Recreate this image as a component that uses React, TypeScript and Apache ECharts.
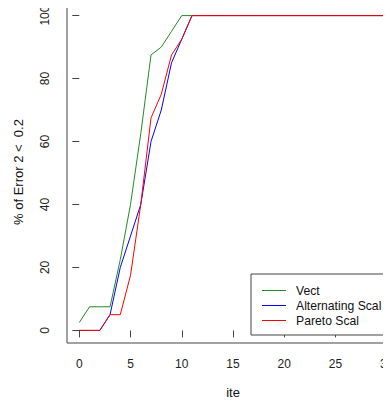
import React, { useEffect, useRef } from "react";
import * as echarts from "echarts";

const iterations = Array.from({ length: 31 }, (_, i) => i);
const vect = [2.5, 7.5, 7.5, 7.5, 22.5, 40, 62.5, 87.5, 90, 95, 100, 100, 100, 100, 100, 100, 100, 100, 100, 100, 100, 100, 100, 100, 100, 100, 100, 100, 100, 100, 100];
const alternating = [0, 0, 0, 5, 20, 30, 40, 60, 70, 85, 92.5, 100, 100, 100, 100, 100, 100, 100, 100, 100, 100, 100, 100, 100, 100, 100, 100, 100, 100, 100, 100];
const pareto = [0, 0, 0, 5, 5, 17.5, 40, 67.5, 75, 87.5, 92.5, 100, 100, 100, 100, 100, 100, 100, 100, 100, 100, 100, 100, 100, 100, 100, 100, 100, 100, 100, 100];
const xTicks = [0, 5, 10, 15, 20, 25, 30];
const yTicks = [0, 20, 40, 60, 80, 100];
const seriesNames = ["Vect", "Alternating Scal", "Pareto Scal"];
const colors = ["#228B22", "#0000FF", "#FF0000"];

const FONT = "'Liberation Sans', Arial, sans-serif";

export default function App() {
  const ref = useRef<HTMLDivElement>(null);
  useEffect(() => {
    if (!ref.current) return;
    const chart = echarts.init(ref.current, null, { renderer: "svg" });
    const data = [vect, alternating, pareto];
    chart.setOption({
      animation: false,
      textStyle: { fontFamily: FONT },
      grid: {
        left: 67,
        top: 3,
        width: 332,
        height: 340,
        show: true,
        borderColor: "#444",
        borderWidth: 1,
        backgroundColor: "transparent",
        outerBoundsMode: "none",
        containLabel: false,
      },
      xAxis: {
        type: "value",
        min: -1.2,
        max: 31.2,
        axisLine: { show: false },
        splitLine: { show: false },
        axisTick: {
          show: true,
          customValues: xTicks,
          length: 7,
          inside: false,
          lineStyle: { color: "#444" },
        },
        axisLabel: {
          customValues: xTicks,
          color: "#222",
          fontSize: 12,
          fontFamily: FONT,
          margin: 15,
          showMinLabel: true,
          showMaxLabel: true,
          hideOverlap: false,
        },
      },
      yAxis: {
        type: "value",
        min: -4,
        max: 104,
        axisLine: { show: false },
        splitLine: { show: false },
        axisTick: {
          show: true,
          customValues: yTicks,
          length: 7,
          lineStyle: { color: "#444" },
        },
        axisLabel: {
          customValues: yTicks,
          color: "#222",
          fontSize: 12,
          fontFamily: FONT,
          rotate: 90,
          margin: 16,
          showMinLabel: true,
          showMaxLabel: true,
          hideOverlap: false,
        },
      },
      legend: {
        data: seriesNames,
        orient: "vertical",
        left: 251,
        top: 274,
        padding: [9, 14, 7, 11],
        itemGap: 0,
        itemWidth: 24,
        itemHeight: 1,
        borderColor: "#444",
        borderWidth: 1,
        backgroundColor: "#fff",
        icon: "rect",
        textStyle: {
          fontSize: 12.2,
          fontFamily: FONT,
          color: "#111",
          padding: [0, 0, 0, 5],
          lineHeight: 15,
        },
      },
      graphic: [
        {
          type: "text",
          x: 233,
          y: 392,
          style: {
            text: "ite",
            fontSize: 13,
            fontFamily: FONT,
            fill: "#111",
            align: "center",
            verticalAlign: "middle",
          },
        },
        {
          type: "text",
          x: 18,
          y: 172,
          rotation: Math.PI / 2,
          style: {
            text: "% of Error 2 <  0.2",
            fontSize: 13,
            fontFamily: FONT,
            fill: "#111",
            align: "center",
            verticalAlign: "middle",
          },
        },
      ],
      series: data.map((vals, k) => ({
        name: seriesNames[k],
        type: "line",
        data: iterations.map((x, i) => [x, vals[i]]),
        symbol: "none",
        showSymbol: false,
        lineStyle: { color: colors[k], width: 1 },
        itemStyle: { color: colors[k] },
        z: 2 + k,
      })),
    });
    return () => chart.dispose();
  }, []);
  return <div ref={ref} style={{ width: 391, height: 405, marginLeft: -8, marginTop: -8 }} />;
}
